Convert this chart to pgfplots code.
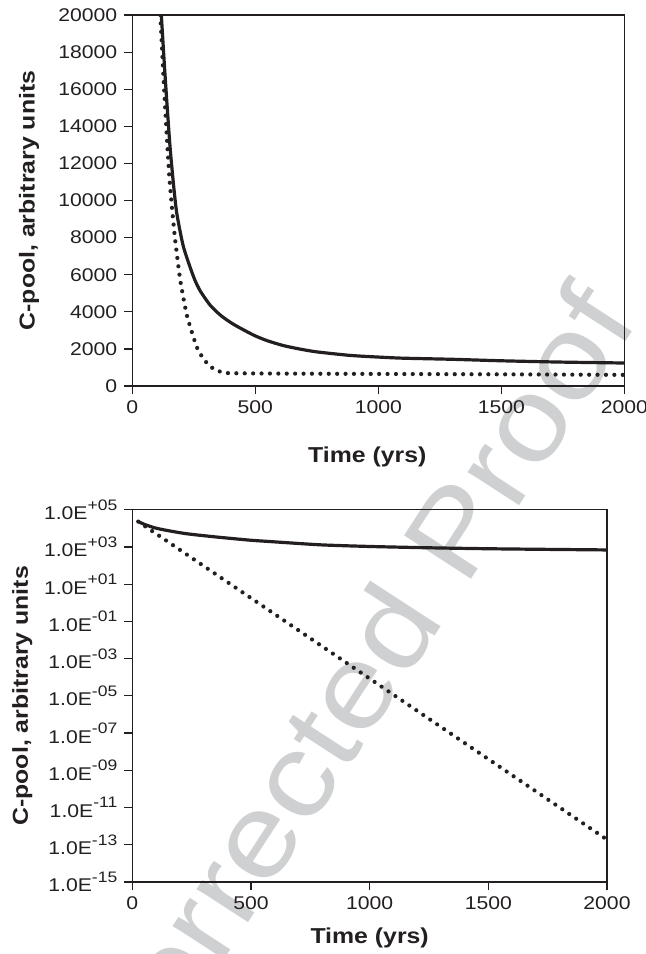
\documentclass[border=0pt]{standalone}
\usepackage{fontspec}
\setmainfont{Liberation Sans}[FakeStretch=1.15]
\usepackage{pgfplots}
\pgfplotsset{compat=1.18}
\usepackage{pgfplotstable}

\definecolor{ink}{RGB}{35,31,32}
\definecolor{wm}{RGB}{206,208,209}
\newcommand{\sci}[1]{1.0E\raisebox{4.8pt}{\fontsize{7.6}{7.6}\selectfont #1}}

% top panel, linear C-pool
\pgfplotstableread{
t v
118 20000
130 17400
141 15200
154 12800
168 10800
181 9300
208 7500
249 5890
275 5150
317 4350
360 3800
411 3330
492 2750
547 2450
614 2180
682 1990
750 1840
885 1650
1000 1560
1100 1500
1300 1440
1500 1360
1740 1290
2000 1240
}\solidlin
\pgfplotstableread{
t v
114 20000
127 16600
141 13300
150 11400
160 9800
174 7900
195 5700
222 3800
262 2100
290 1450
317 1050
345 830
371 730
400 690
600 670
1000 650
1500 630
2000 600
}\dotlin

% bottom panel, log C-pool
\pgfplotstableread{
t v
25 23000
50 16500
76 12600
100 10200
146 7700
230 5100
356 3400
497 2300
567 2000
792 1300
1000 1060
1250 900
1500 800
1750 740
2000 690
}\solidlog
\pgfplotstableread{
t v
25 23000
2000 1.9e-13
}\dotlog

\pgfplotsset{
  panel/.style={
    scale only axis, clip=true,
    xmin=0, xmax=2000, xtick={0,500,1000,1500,2000},
    axis line style={ink, line width=0.6pt},
    tick style={ink, line width=0.6pt},
    major tick length=4pt, tick align=outside,
    xtick pos=bottom, ytick pos=left,
    ticklabel style={font=\fontsize{9.2}{11}\selectfont, text=ink},
    label style={font=\bfseries\fontsize{10.8}{13}\selectfont, text=ink},
    /pgf/number format/assume math mode=true,
    /pgf/number format/1000 sep={},
    scaled ticks=false,
    xlabel={Time (yrs)}, ylabel={C-pool, arbitrary units},
  },
  solidc/.style={ink, line width=1.6pt, line join=round, smooth, tension=0.4},
  dotc/.style={ink, line width=2.1pt, line cap=round, dash pattern=on 0pt off 4.2pt},
}

\begin{document}
\begin{tikzpicture}
\node[rotate=57, text=wm, font=\fontsize{58}{58}\selectfont] at (155pt,-376pt) {Uncorrected Proof};

\begin{axis}[panel,
  at={(66.15pt,-193pt)}, anchor=south west,
  width=246pt, height=185.5pt,
  ymin=0, ymax=20000, ytick={0,2000,...,20000},
  xlabel style={at={(axis description cs:0.5,0)}, anchor=center, yshift=-35.5pt, xshift=-5.5pt},
  ylabel style={at={(axis description cs:0,0.5)}, anchor=center, yshift=51.6pt},
]
\addplot[solidc] table[x=t, y=v] {\solidlin};
\addplot[dotc, smooth, tension=0.3] table[x=t, y=v] {\dotlin};
\end{axis}

\begin{axis}[panel,
  at={(66.15pt,-441pt)}, anchor=south west,
  width=237.35pt, height=186.15pt,
  ymode=log, ymin=1e-15, ymax=1e5, yminorticks=false,
  ytick={1e-15,1e-13,1e-11,1e-9,1e-7,1e-5,1e-3,1e-1,1e1,1e3,1e5},
  yticklabels={\sci{-15},\sci{-13},\sci{-11},\sci{-09},\sci{-07},\sci{-05},\sci{-03},\sci{-01},\sci{+01},\sci{+03},\sci{+05}},
  xlabel style={at={(axis description cs:0.5,0)}, anchor=center, yshift=-28pt},
  ylabel style={at={(axis description cs:0,0.5)}, anchor=center, yshift=55pt},
]
\addplot[solidc] table[x=t, y=v] {\solidlog};
\addplot[dotc] table[x=t, y=v] {\dotlog};
\end{axis}

\pgfresetboundingbox
\path[use as bounding box] (0,0) rectangle (323pt,-477pt);
\end{tikzpicture}
\end{document}
